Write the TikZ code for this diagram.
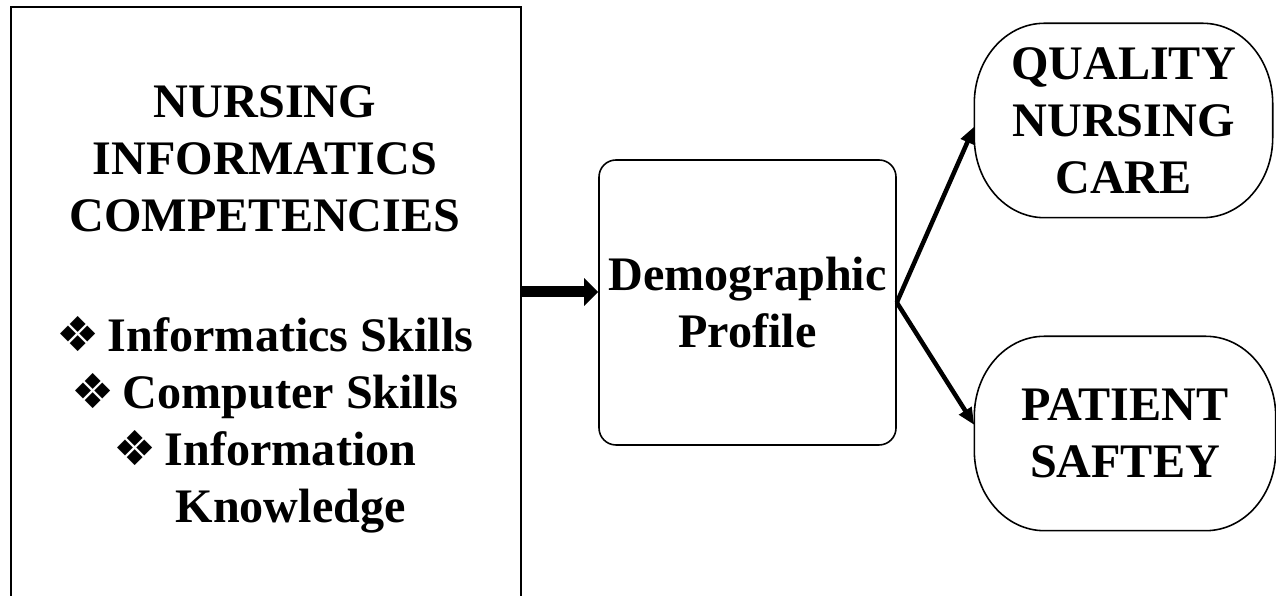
\documentclass[tikz,border=0pt]{standalone}
\usepackage{fontspec}
\setmainfont{Liberation Serif}
\newfontfamily\dingfont{DejaVu Sans}
\usetikzlibrary{arrows.meta,positioning}

% list bullet
\newcommand\bul{{\dingfont ❖}\hspace{0.08cm}}

% outline with flat top and bottom and elliptic ends
\newcommand\pilloutline[1]{%
  \draw[outline] ([xshift=0.7cm]#1.north west) -- ([xshift=-0.7cm]#1.north east)
    arc[start angle=90, end angle=0, x radius=0.7cm, y radius=0.8cm]
    -- ([yshift=0.8cm]#1.south east)
    arc[start angle=0, end angle=-90, x radius=0.7cm, y radius=0.8cm]
    -- ([xshift=0.7cm]#1.south west)
    arc[start angle=270, end angle=180, x radius=0.7cm, y radius=0.8cm]
    -- ([yshift=-0.8cm]#1.north west)
    arc[start angle=180, end angle=90, x radius=0.7cm, y radius=0.8cm] -- cycle;}

\begin{document}
\begin{tikzpicture}[
    every node/.style={font=\fontsize{13.7pt}{16.2pt}\selectfont\bfseries, align=center, inner sep=0pt},
    frame/.style={draw, semithick},
    roundbox/.style={draw, line width=0.45pt, rounded corners=0.17cm},
    outline/.style={line width=0.45pt},
    thickarrow/.style={line width=0.11cm, -{Triangle[length=0.14cm, width=0.27cm]}},
    linkarrow/.style={line width=0.045cm, -{Triangle[length=0.17cm, width=0.14cm]}}
]
    \clip (0,0) rectangle (12.76,5.96);

    \node[frame, minimum width=5.10cm, minimum height=6.40cm, anchor=north west] (frame) at (0.10,5.90) {};
    \node[anchor=north] (competencies) at (2.65,5.11) {NURSING\\INFORMATICS\\COMPETENCIES\\[0.63cm]
        \bul Informatics Skills\\\bul Computer Skills\\\bul Information\\\phantom{\bul}Knowledge};

    \node[roundbox, minimum width=2.97cm, minimum height=2.85cm] (demo) at (7.475,2.935) {Demographic\\Profile};
    \node[minimum width=2.97cm, minimum height=1.93cm] (quality) at (11.235,4.755) {QUALITY\\NURSING\\CARE};
    \node[minimum width=3.00cm, minimum height=1.93cm] (safety) at (11.25,1.625) {PATIENT\\SAFTEY};
    \pilloutline{quality}
    \pilloutline{safety}

    \coordinate (feed) at ([yshift=0.105cm]demo.west);
    \draw[thickarrow] (feed -| frame.east) -- (feed);
    \draw[linkarrow] (demo.east) -- ([yshift=-0.06cm]quality.west);
    \draw[linkarrow] (demo.east) -- ([yshift=0.085cm]safety.west);
\end{tikzpicture}
\end{document}
